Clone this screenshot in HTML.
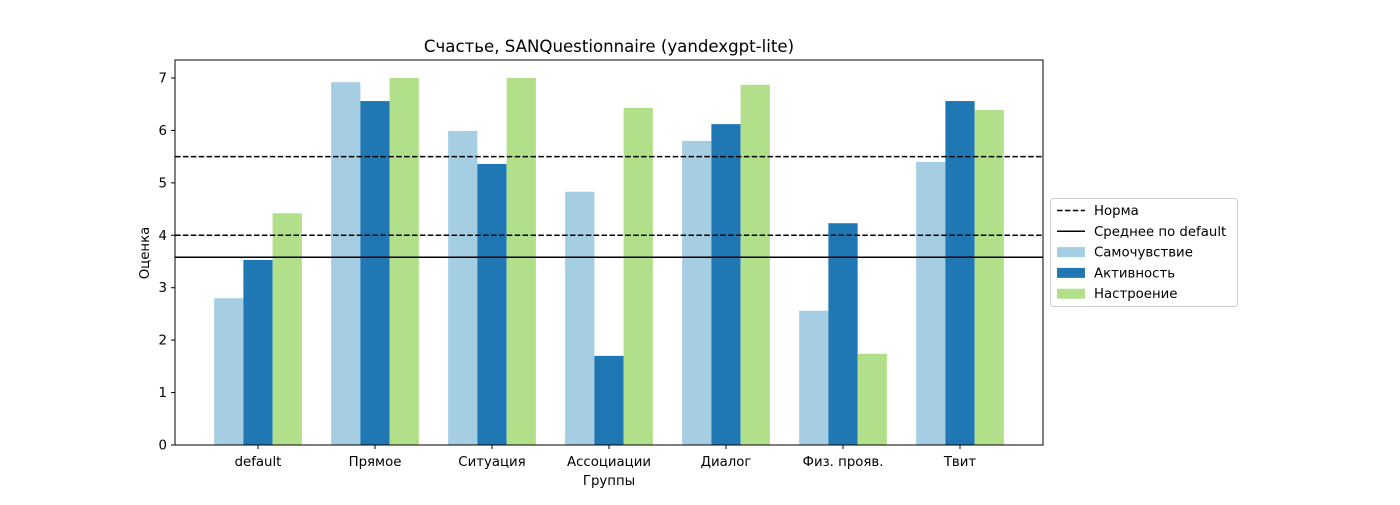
<!DOCTYPE html>
<html><head><meta charset="utf-8"><style>
body{margin:0;background:#fff;}
svg text{font-family:"DejaVu Sans","Liberation Sans",sans-serif;fill:#000;}
</style></head><body>
<svg id="chart" width="1400" height="500" xmlns="http://www.w3.org/2000/svg"></svg>
<script>
const categories=["default","Прямое","Ситуация","Ассоциации","Диалог","Физ. прояв.","Твит"];
const seriesNames=["Самочувствие","Активность","Настроение"];
const samochuvstvie=[2.80,6.92,5.99,4.83,5.80,2.56,5.40];
const aktivnost=[3.53,6.56,5.36,1.70,6.12,4.23,6.56];
const nastroenie=[4.42,7.0,7.0,6.43,6.87,1.74,6.39];
const normLevels=[5.5,4.0];
const defaultMean=3.58;
const yTicks=[0,1,2,3,4,5,6,7];

const colors=["#a6cee3","#1f78b4","#b2df8a"];
const series=[samochuvstvie,aktivnost,nastroenie];
const L=175,R=1043,T=60,B=445,yMax=7.343;
const ns="http://www.w3.org/2000/svg";
const svg=document.getElementById('chart');
function y(v){return B-(v/yMax)*(B-T);}
function x(i){return 258+i*117;}
function el(tag,attrs,parent){const e=document.createElementNS(ns,tag);for(const k in attrs)e.setAttribute(k,attrs[k]);(parent||svg).appendChild(e);return e;}
const bw=29.25;
series.forEach((s,si)=>{
  s.forEach((v,i)=>{
    const r=el('rect',{x:x(i)+(si-1.5)*bw,y:y(v),width:bw,height:B-y(v),fill:colors[si]});
    
    
  });
});
normLevels.forEach((v,i)=>{
  const l=el('line',{x1:L,x2:R,y1:y(v),y2:y(v),stroke:'#000','stroke-width':1.5,'stroke-dasharray':'5.5,2.4'});
  
  
});
const ml=el('line',{x1:L,x2:R,y1:y(defaultMean),y2:y(defaultMean),stroke:'#000','stroke-width':1.5});


const frame=el('rect',{x:L,y:T,width:R-L,height:B-T,fill:'none',stroke:'#000','stroke-width':1});


yTicks.forEach(t=>{
  el('line',{x1:L-4,x2:L,y1:y(t),y2:y(t),stroke:'#000'});
  const tx=el('text',{x:L-8,y:y(t)+4.5,'text-anchor':'end','font-size':13.3});
  tx.textContent=t;
  
  
});
categories.forEach((c,i)=>{
  el('line',{x1:x(i),x2:x(i),y1:B,y2:B+4,stroke:'#000'});
  const tx=el('text',{x:x(i),y:B+21,'text-anchor':'middle','font-size':13.3});
  tx.textContent=c;
  
  
});
const title=el('text',{x:609,y:52,'text-anchor':'middle','font-size':16.6});
title.textContent="Счастье, SANQuestionnaire (yandexgpt-lite)";


const xt=el('text',{x:609,y:485,'text-anchor':'middle','font-size':13.3});
xt.textContent="Группы";


const yt=el('text',{x:0,y:0,'text-anchor':'middle','font-size':13.3,transform:'translate(149,253) rotate(-90)'});
yt.textContent="Оценка";


// legend
const lg=el('g',{});


el('rect',{x:1050.5,y:198.5,width:187,height:108,rx:3,fill:'#fff',stroke:'#ccc'},lg);
const entries=[["Норма","dash"],["Среднее по default","line"],[seriesNames[0],colors[0]],[seriesNames[1],colors[1]],[seriesNames[2],colors[2]]];
entries.forEach((e,i)=>{
  const cy=210.5+i*20.8;
  const g=el('g',{},lg);
  
  
  if(e[1]==="dash")el('line',{x1:1057,x2:1085,y1:cy,y2:cy,stroke:'#000','stroke-width':1.5,'stroke-dasharray':'5.5,2.4'},g);
  else if(e[1]==="line")el('line',{x1:1057,x2:1085,y1:cy,y2:cy,stroke:'#000','stroke-width':1.5},g);
  else el('rect',{x:1057,y:cy-5,width:28,height:10,fill:e[1]},g);
  const t=el('text',{x:1094,y:cy+4.5,'font-size':13.3},g);
  t.textContent=e[0];
});
</script>
</body></html>
